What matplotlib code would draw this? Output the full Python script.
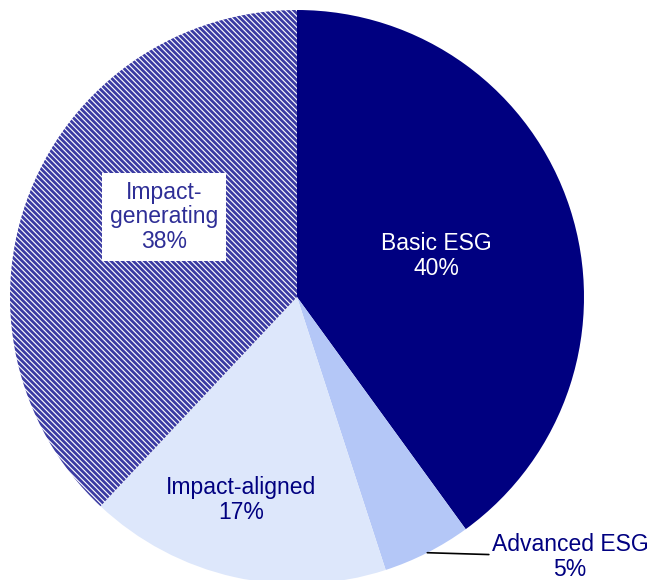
import matplotlib.pyplot as plt
import numpy as np

plt.rcParams['font.family'] = ['Liberation Sans', 'DejaVu Sans']
plt.rcParams['hatch.linewidth'] = 2.0
plt.rcParams['hatch.color'] = '#3b3ba3'

labels = ['Basic ESG', 'Advanced ESG', 'Impact-aligned', 'Impact-\ngenerating']
shares = [40, 5, 17, 38]
colors = ['#000080', '#b4c7f7', '#dde7fb', 'white']

fig = plt.figure(figsize=(6.5, 5.8), dpi=100)
ax = fig.add_axes([0, 0, 1, 1])

cx, cy, R = 297, 283, 287
wedges, _ = ax.pie(shares, colors=colors, startangle=90, counterclock=False,
                   center=(cx, cy), radius=R, frame=True,
                   wedgeprops=dict(linewidth=0))
wedges[3].set_hatch('\\\\\\\\\\\\')
wedges[3].set_edgecolor('#3b3ba3')
wedges[3].set_linewidth(0)
ax.set_xlim(0, 650)
ax.set_ylim(0, 580)
ax.set_aspect('equal')
ax.axis('off')

fs = 16.5
ls = 1.08
ax.text(cx + 139, cy + 41, f'{labels[0]}\n{shares[0]}%', ha='center', va='center',
        color='white', fontsize=fs, linespacing=ls)
ax.text(cx - 56, cy - 203, f'{labels[2]}\n{shares[2]}%', ha='center', va='center',
        color='#000080', fontsize=fs, linespacing=ls)
ax.text(cx - 133, cy + 80, f'{labels[3]}\n{shares[3]}%', ha='center', va='center',
        color='#2e2e96', fontsize=fs, linespacing=ls,
        bbox=dict(facecolor='white', edgecolor='none', boxstyle='square,pad=0.35'))

# leader line for the small slice
mid = np.deg2rad(90 - 360 * (shares[0] + shares[1] / 2) / 100)
ax.annotate(f'{labels[1]}\n{shares[1]}%',
            xy=(cx + R * np.cos(mid), cy + R * np.sin(mid)),
            xytext=(cx + 273, cy - 260), ha='center', va='center',
            color='#000080', fontsize=fs, linespacing=ls,
            arrowprops=dict(arrowstyle='-', color='black', lw=1.2,
                            shrinkA=0, shrinkB=0, relpos=(0, 0.55)))

fig.savefig('out.png', dpi=100)
